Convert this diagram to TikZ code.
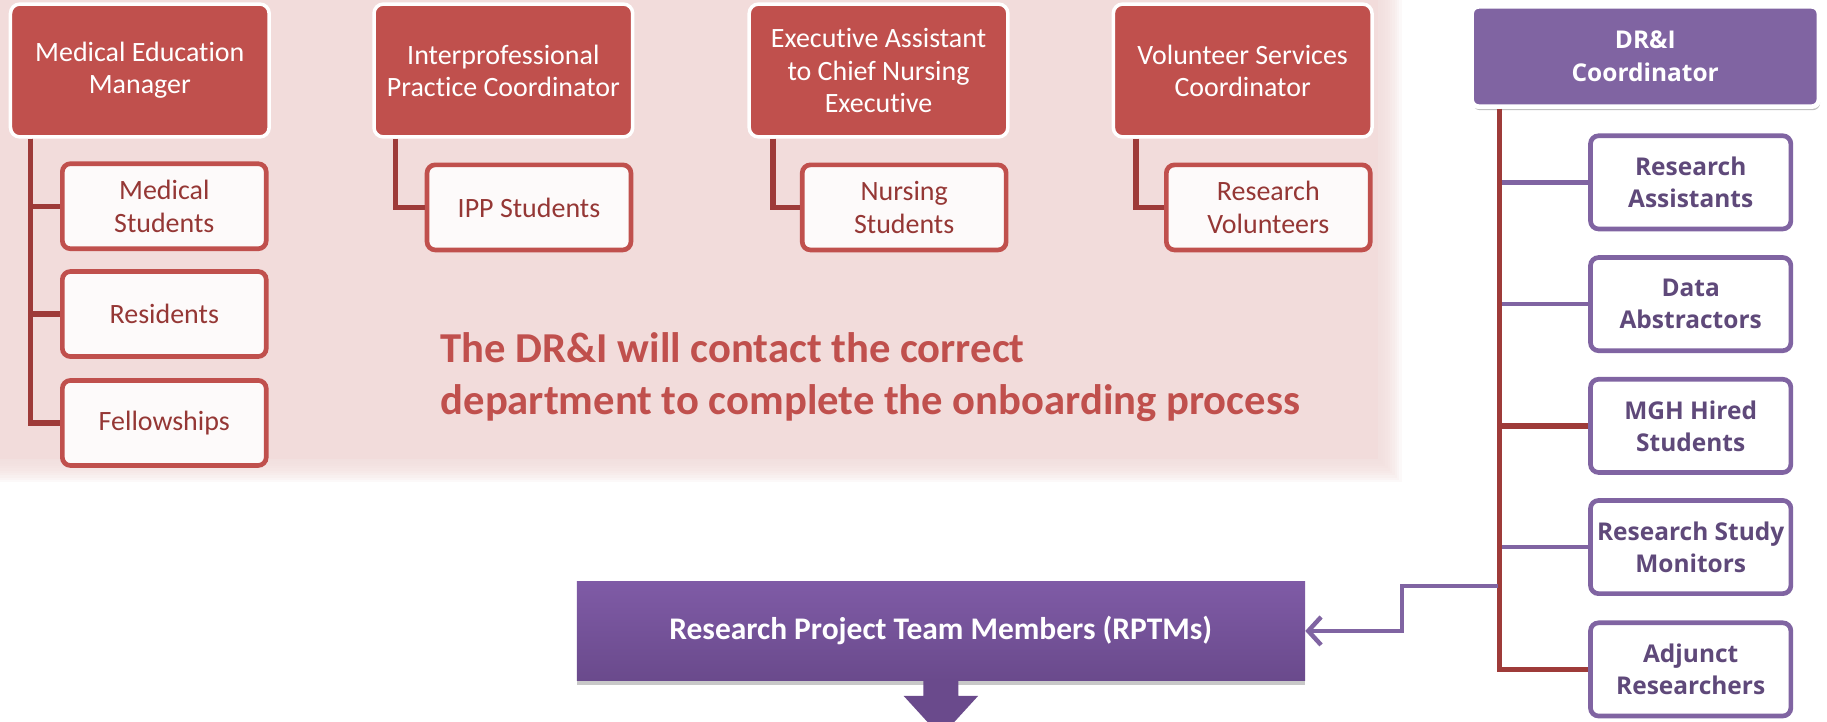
\documentclass[tikz,border=0pt]{standalone}
\usepackage{fontspec}
\setmainfont{Carlito}[Ligatures=NoCommon]
\newfontfamily\osans{Open Sans}
\usetikzlibrary{arrows.meta,shadows}
\definecolor{redbox}{HTML}{C0504D}
\definecolor{redline}{HTML}{9E3B39}
\definecolor{redtext}{HTML}{953735}
\definecolor{pinkbg}{HTML}{F2DCDB}
\definecolor{purp}{HTML}{8064A2}
\definecolor{purptext}{HTML}{5F497A}
\definecolor{purptop}{HTML}{7F5BA6}
\definecolor{purpbot}{HTML}{6A4A8C}
\begin{document}
\begin{tikzpicture}[x=1pt,y=-1pt,
  headbox/.style={rectangle, rounded corners=8pt, fill=redbox, draw=white, line width=3pt,
    minimum width=222pt, minimum height=114pt, text=white, align=center,
    font=\fontsize{24}{27.5}\selectfont, inner sep=0pt},
  childbox/.style={rectangle, rounded corners=7pt, fill=white!97!redbox, draw=redbox, line width=4pt,
    minimum width=175pt, minimum height=73pt, text=redtext, align=center,
    font=\fontsize{24}{28}\selectfont, inner sep=0pt},
  pchild/.style={rectangle, rounded corners=7pt, fill=white, draw=purp, line width=4pt,
    minimum width=172pt, minimum height=80pt, text=purptext, align=center,
    font=\osans\bfseries\fontsize{21}{27.5}\selectfont, inner sep=0pt},
  driboxstyle/.style={rectangle, rounded corners=6pt, fill=purp, draw=white, line width=4pt,
    minimum width=298pt, minimum height=86pt, text=white, align=center,
    font=\osans\bfseries\fontsize{21}{28}\selectfont, inner sep=0pt,
    drop shadow={shadow xshift=1pt, shadow yshift=-3pt, opacity=0.35, fill=black!70}},
  rptmstyle/.style={rectangle, top color=purptop, bottom color=purpbot, draw=none,
    minimum width=625pt, minimum height=85pt, text=white, align=center,
    font=\bfseries\fontsize{27}{30}\selectfont, inner sep=0pt,
    drop shadow={shadow xshift=0pt, shadow yshift=-4pt, opacity=0.3, fill=black!70}},
  redconn/.style={draw=redline, line width=4.5pt},
  purpconn/.style={draw=purp, line width=3.8pt},
]
\path[use as bounding box, clip] (0,0) rectangle (1568,618.8);
\fill[white] (0,0) rectangle (1568,618.8);
% soft pink background
\foreach \i in {0,...,9} {
  \fill[pinkbg, opacity=0.16] (0,0) rectangle (1203-\i*2, 414-\i*2);
}
\fill[pinkbg] (0,0) rectangle (1183,394);

% head boxes
\node[headbox] (med) at (120,60.5) {Medical Education\\Manager};
\node[headbox] (ipp) at (432,60.5) {Interprofessional\\Practice Coordinator};
\node[headbox] (exe) at (754,60.5) {Executive Assistant\\to Chief Nursing\\Executive};
\node[headbox] (vol) at (1066.5,60.5) {Volunteer Services\\Coordinator};

% child boxes
\node[childbox] (ms) at (141,177) {Medical\\Students};
\node[childbox] (res) at (141,269.5) {Residents};
\node[childbox] (fel) at (141,363) {Fellowships};
\node[childbox] (ipps) at (454,178) {IPP Students};
\node[childbox] (nurs) at (776,178) {Nursing\\Students};
\node[childbox] (rvol) at (1088.5,178) {Research\\Volunteers};

% red connectors
\draw[redconn] ([xshift=19pt]med.south west) |- (fel.west);
\draw[redconn] ([xshift=19pt]med.south west) |- (res.west);
\draw[redconn] ([xshift=19pt]med.south west) |- (ms.west);
\draw[redconn] ([xshift=20pt]ipp.south west) |- (ipps.west);
\draw[redconn] ([xshift=22pt]exe.south west) |- (nurs.west);
\draw[redconn] ([xshift=21pt]vol.south west) |- (rvol.west);

% note
\node[anchor=north west, align=left, inner sep=0pt, text=redbox,
  font=\bfseries\fontsize{36.6}{45}\selectfont] (note) at (378,285)
  {The DR\&I will contact the correct\\department to complete the onboarding process};

% right side
\node[driboxstyle] (dri) at (1412,48.5) {DR\&I\\Coordinator};
\node[pchild] (ra) at (1451,156.5) {Research\\Assistants};
\node[pchild] (da) at (1451,261) {Data\\Abstractors};
\node[pchild] (mgh) at (1451,365.5) {MGH Hired\\Students};
\node[pchild] (rsm) at (1451,469.5) {Research Study\\Monitors};
\node[pchild] (adj) at (1451,574.5) {Adjunct\\Researchers};

\coordinate (trunk) at ([xshift=26pt]dri.south west);
\draw[purpconn] (ra.west -| trunk) -- (ra.west);
\draw[purpconn] (da.west -| trunk) -- (da.west);
\draw[purpconn] (rsm.west -| trunk) -- (rsm.west);
\draw[redconn] (trunk) |- (mgh.west);
\draw[redconn] (trunk) |- (adj.west);

% RPTMs
\node[rptmstyle] (rptm) at (807.5,541.5) {Research Project Team Members (RPTMs)};
\coordinate (src) at (1286,503);
\draw[purpconn, -{Straight Barb[length=11pt,width=24pt]}] (src) -- ++(-83,0) |- (rptm.east);
\fill[purpbot] ([xshift=-15pt]rptm.south) -- ++(0,13) -- ++(-17,0) -- ++(32,35) -- ++(32,-35) -- ++(-17,0) -- ++(0,-13) -- cycle;
\end{tikzpicture}
\end{document}
